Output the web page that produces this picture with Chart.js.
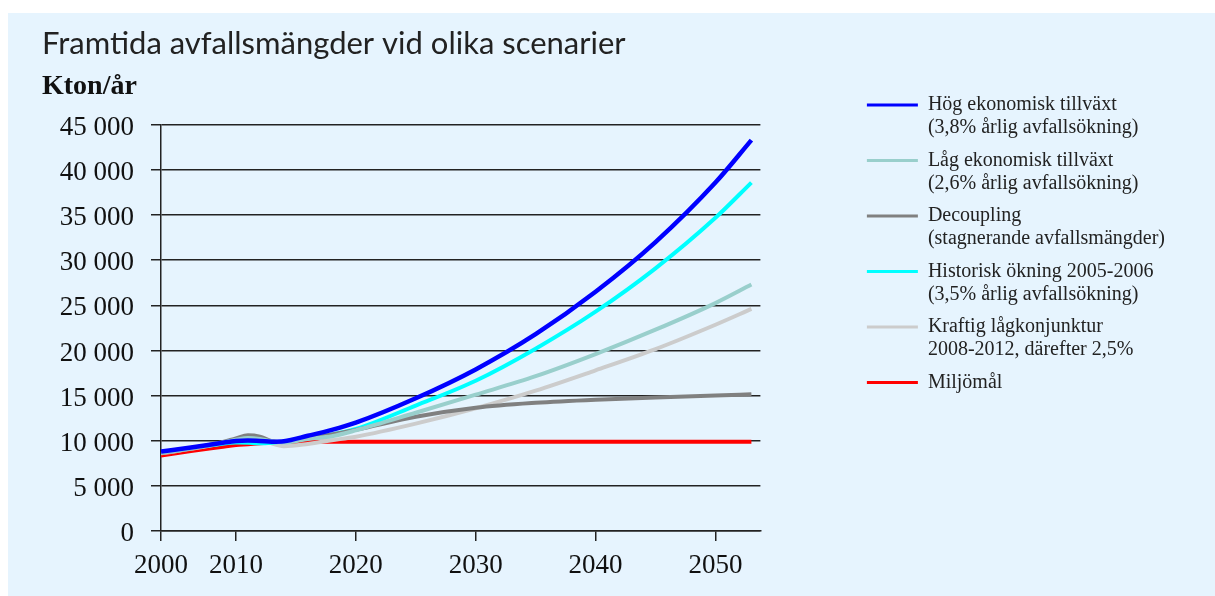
<!DOCTYPE html>
<html>
<head>
<meta charset="utf-8">
<title>Framtida avfallsmängder vid olika scenarier</title>
<script src="https://cdn.jsdelivr.net/npm/chart.js@4.4.1/dist/chart.umd.min.js"></script>
<style>
  html, body { margin: 0; padding: 0; background: #fff; }
  #panel { position: absolute; left: 8px; top: 13px; width: 1207px; height: 583px; background: #e6f4fe; }
</style>
</head>
<body>
<div id="panel"><canvas id="wasteChart" width="1207" height="583"></canvas></div>
<script>
// Years (x), kton per year (y)
const years = [2000, 2004, 2008, 2010, 2011, 2012, 2013, 2014, 2016, 2018, 2020, 2025, 2030, 2035, 2040, 2045, 2050, 2053];

const hogTillvaxt   = [8800, 9250, 9750, 9980, 10020, 9980, 9900, 9950, 10550, 11200, 12000, 14700, 17900, 21800, 26500, 32000, 38600, 43300];
const lagTillvaxt   = [8650, 9150, 9750, 10100, 10300, 10200, 9950, 9800, 10200, 10500, 11150, 13100, 15100, 17150, 19600, 22300, 25250, 27300];
const decoupling    = [8650, 9150, 9800, 10250, 10600, 10450, 9950, 9850, 10250, 10700, 11200, 12650, 13650, 14200, 14550, 14800, 15000, 15150];
const historisk     = [8750, 9200, 9650, 9800, 9780, 9720, 9780, 9900, 10350, 10700, 11300, 13900, 16650, 20200, 24300, 29100, 34700, 38600];
const lagkonjunktur = [8600, 9100, 9700, 10150, 10450, 10250, 9700, 9400, 9650, 10050, 10450, 11900, 13600, 15550, 17800, 20150, 22850, 24600];
const miljomal      = [8350, 8850, 9300, 9530, 9620, 9720, 9800, 9870, 9890, 9890, 9890, 9890, 9890, 9890, 9890, 9890, 9890, 9890];

const legendLines = [
    ['Hög ekonomisk tillväxt', '(3,8% årlig avfallsökning)'],
    ['Låg ekonomisk tillväxt', '(2,6% årlig avfallsökning)'],
    ['Decoupling', '(stagnerande avfallsmängder)'],
    ['Historisk ökning 2005-2006', '(3,5% årlig avfallsökning)'],
    ['Kraftig lågkonjunktur', '2008-2012, därefter 2,5%'],
    ['Miljömål']
];
const seriesColors = ['#0000ff', '#99cfcc', '#808080', '#00ffff', '#cccccc', '#ff0000'];
const xTickYears = [2000, 2010, 2020, 2030, 2040, 2050];

// The original axis squeezes 2000-2010 compared to the later decades
const BREAK_YEAR = 2010;
const EARLY_SCALE = 0.625;

class SplitYearScale extends Chart.LinearScale {
    warp(v) {
        return v < BREAK_YEAR ? BREAK_YEAR - (BREAK_YEAR - v) * EARLY_SCALE : v;
    }
    unwarp(w) {
        return w < BREAK_YEAR ? BREAK_YEAR - (BREAK_YEAR - w) / EARLY_SCALE : w;
    }
    getPixelForValue(value) {
        if (value === null || value === undefined) return NaN;
        const a = this.warp(this.min), b = this.warp(this.max);
        return this.getPixelForDecimal((this.warp(value) - a) / (b - a));
    }
    getValueForPixel(pixel) {
        const a = this.warp(this.min), b = this.warp(this.max);
        return this.unwarp(a + this.getDecimalForPixel(pixel) * (b - a));
    }
}
SplitYearScale.id = 'splitYear';
SplitYearScale.defaults = Chart.LinearScale.defaults;
Chart.register(SplitYearScale);

const serif = "'Liberation Serif', 'Times New Roman', serif";

function formatThousands(v) {
    return String(v).replace(/\B(?=(\d{3})+(?!\d))/g, ' ');
}

function makeSeries(label, data, i) {
    return {
        label: label,
        data: data,
        borderColor: seriesColors[i],
        backgroundColor: seriesColors[i],
        borderWidth: i === 0 ? 4.5 : 4,
        pointRadius: 0,
        cubicInterpolationMode: 'monotone',
        fill: false
    };
}

const ctx = document.getElementById('wasteChart').getContext('2d');
window.wasteChart = new Chart(ctx, {
    type: 'line',
    data: {
        labels: years,
        datasets: [
            makeSeries(legendLines[0][0], hogTillvaxt, 0),
            makeSeries(legendLines[1][0], lagTillvaxt, 1),
            makeSeries(legendLines[2][0], decoupling, 2),
            makeSeries(legendLines[3][0], historisk, 3),
            makeSeries(legendLines[4][0], lagkonjunktur, 4),
            makeSeries(legendLines[5][0], miljomal, 5)
        ]
    },
    options: {
        responsive: false,
        animation: false,
        layout: {
            padding: { left: 34, right: 40, top: 0, bottom: 0 }
        },
        plugins: {
            title: {
                display: true,
                text: 'Framtida avfallsmängder vid olika scenarier',
                align: 'start',
                color: '#222',
                font: { family: 'Lato', size: 31, weight: 'normal' },
                padding: { top: 12, bottom: 0 }
            },
            subtitle: {
                display: true,
                text: 'Kton/år',
                align: 'start',
                color: '#111',
                font: { family: serif, size: 28, weight: 'bold' },
                padding: { top: 8, bottom: 21 }
            },
            legend: {
                position: 'right',
                align: 'start',
                maxWidth: 420,
                title: {
                    display: true,
                    text: '',
                    font: { size: 10, lineHeight: 1 },
                    padding: { top: 62.5, bottom: 0 }
                },
                labels: {
                    boxWidth: 51,
                    boxHeight: 3,
                    padding: 9.5,
                    color: '#222',
                    font: { family: serif, size: 20, lineHeight: 1.15 },
                    generateLabels: function(chart) {
                        return chart.data.datasets.map((ds, i) => ({
                            text: legendLines[i],
                            fillStyle: ds.borderColor,
                            strokeStyle: ds.borderColor,
                            fontColor: '#222',
                            lineWidth: 0,
                            hidden: !chart.isDatasetVisible(i),
                            datasetIndex: i
                        }));
                    }
                }
            },
            tooltip: { enabled: false }
        },
        scales: {
            x: {
                type: 'splitYear',
                min: 2000,
                max: 2053.75,
                afterBuildTicks: function(axis) {
                    axis.ticks = xTickYears.map(v => ({ value: v }));
                },
                afterFit: function(axis) { axis.height = 65; },
                ticks: {
                    autoSkip: false,
                    maxRotation: 0,
                    padding: 9,
                    color: '#111',
                    font: { family: serif, size: 27 },
                    callback: v => String(v)
                },
                grid: { drawOnChartArea: false, drawTicks: true, tickLength: 10, color: '#222', lineWidth: 1.5 },
                border: { color: '#222', width: 1.5 }
            },
            y: {
                min: 0,
                max: 45000,
                afterFit: function(axis) { axis.width = 119; },
                ticks: {
                    stepSize: 5000,
                    padding: 17,
                    labelOffset: 3,
                    color: '#111',
                    font: { family: serif, size: 27 },
                    callback: v => formatThousands(v)
                },
                grid: { color: '#222', lineWidth: 1.5, tickLength: 10 },
                border: { color: '#222', width: 1.5 }
            },
            y2: {
                position: 'right',
                afterFit: function(axis) { axis.width = 97; },
                ticks: { display: false },
                grid: { display: false },
                border: { display: false }
            }
        }
    }
});
</script>
</body>
</html>
